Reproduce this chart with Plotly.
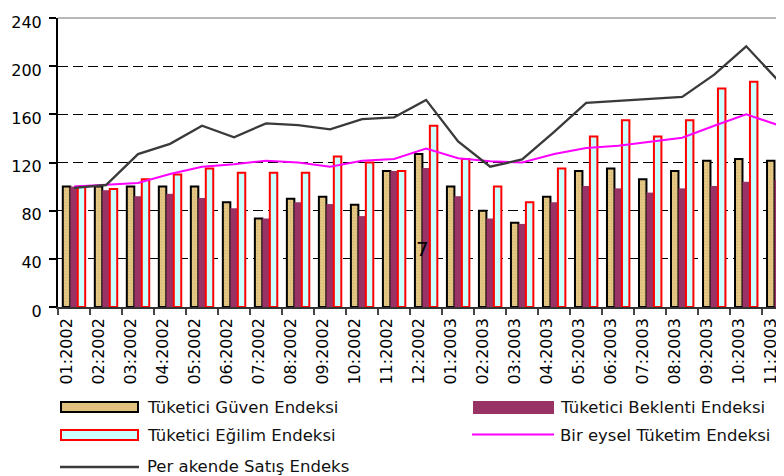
import plotly.graph_objects as go

months = ["01:2002", "02:2002", "03:2002", "04:2002", "05:2002", "06:2002",
          "07:2002", "08:2002", "09:2002", "10:2002", "11:2002", "12:2002",
          "01:2003", "02:2003", "03:2003", "04:2003", "05:2003", "06:2003",
          "07:2003", "08:2003", "09:2003", "10:2003", "11:2003"]

guven = [100, 100, 100, 100, 100, 87, 73.5, 90, 91.5, 85, 113, 127,
         100, 80, 70, 91.5, 113, 115, 106, 113, 121.5, 123, 121.5]
beklenti = [100, 97, 92, 94, 90.5, 82, 73.5, 87, 85.5, 75.5, 113, 115.5,
            92, 73.5, 69, 87, 100.5, 98.5, 95, 98.5, 100.5, 104, 105.5]
egilim = [100, 98, 106, 110, 115, 111.5, 111.5, 111.5, 125, 120, 113, 150.5,
          123, 100, 87, 115, 141.5, 155, 141.5, 155, 181.5, 187, 190]
bireysel = [100, 101.8, 103, 110.5, 116.5, 118.5, 121.5, 120, 116.5, 121.5, 123, 131.5,
            123.5, 121, 120, 127, 132, 134, 137, 140.5, 150.5, 160, 151]
perakende = [99, 101.3, 127, 135.5, 150.5, 141, 152.5, 151, 147.5, 156, 157.5, 172,
             137.5, 116.5, 122.5, 145.5, 169.5, 171, 172.5, 174.5, 193, 216.5, 188]

y_ticks = [0, 40, 80, 120, 160, 200, 240]

names = ["Tüketici Güven Endeksi", "Tüketici Beklenti Endeksi",
         "Tüketici Eğilim Endeksi", "Bir eysel Tüketim Endeksi",
         "Per akende Satış Endeks"]

# the page body adds an 8px offset; size the figure to fill the rest of the window
OFF = 8
W, H = 784 - OFF, 476 - OFF
ML, MR, MT, MB = 58 - OFF, 0, 18 - OFF, 169
PW, PH = W - ML - MR, H - MT - MB
FONT = "DejaVu Sans"

TAN = "#E0C27E"
PURPLE = "#993366"
CYAN = "#CCFFFF"
RED = "#FF0000"
MAGENTA = "#FF00FF"
GRAY = "#3A3A3A"


def xp(px):
    """window pixel -> paper x"""
    return (px - OFF - ML) / PW


def yp(py):
    """window pixel -> paper y"""
    return (H - MB - (py - OFF)) / PH


fig = go.Figure()
fig.add_trace(go.Bar(x=months, y=guven, name=names[0],
                     marker=dict(color=TAN, line=dict(color="black", width=2),
                                 pattern=dict(shape=".", fgcolor="#C9A865", bgcolor="#E4C784",
                                              size=3, solidity=0.25))))
fig.add_trace(go.Bar(x=months, y=beklenti, name=names[1],
                     marker=dict(color=PURPLE, line=dict(width=0))))
fig.add_trace(go.Bar(x=months, y=egilim, name=names[2],
                     marker=dict(color=CYAN, line=dict(color=RED, width=2))))
fig.add_trace(go.Scatter(x=months, y=bireysel, name=names[3], mode="lines",
                         line=dict(color=MAGENTA, width=2)))
fig.add_trace(go.Scatter(x=months, y=perakende, name=names[4], mode="lines",
                         line=dict(color=GRAY, width=2.3)))

shapes = []
annotations = []

# top border of the plot
shapes.append(dict(type="line", xref="paper", yref="paper", x0=0, x1=1, y0=1, y1=1,
                   line=dict(color="#A0A0A0", width=1.5)))


def legend_text(px, py, text):
    annotations.append(dict(xref="paper", yref="paper", x=xp(px), y=yp(py), text=text,
                            showarrow=False, xanchor="left", yanchor="middle",
                            font=dict(family=FONT, size=16.5, color="#111111")))


shapes.append(dict(type="rect", xref="paper", yref="paper", x0=xp(61), x1=xp(138),
                   y0=yp(402), y1=yp(412), fillcolor=TAN, line=dict(color="black", width=2)))
legend_text(145, 407, names[0])
shapes.append(dict(type="rect", xref="paper", yref="paper", x0=xp(473), x1=xp(554),
                   y0=yp(401), y1=yp(414), fillcolor=PURPLE, line=dict(width=0)))
legend_text(558, 407, names[1])
shapes.append(dict(type="rect", xref="paper", yref="paper", x0=xp(61), x1=xp(138),
                   y0=yp(430), y1=yp(440), fillcolor=CYAN, line=dict(color=RED, width=2)))
legend_text(145, 435, names[2])
shapes.append(dict(type="line", xref="paper", yref="paper", x0=xp(472), x1=xp(554),
                   y0=yp(434.5), y1=yp(434.5), line=dict(color=MAGENTA, width=2)))
legend_text(558, 435, names[3])
shapes.append(dict(type="line", xref="paper", yref="paper", x0=xp(60), x1=xp(139),
                   y0=yp(467), y1=yp(467), line=dict(color=GRAY, width=2.5)))
legend_text(145, 466, names[4])

# stray label inside the plot
annotations.append(dict(x=months[11], y=48, xref="x", yref="y", text="7", showarrow=False,
                        xshift=-4, font=dict(family=FONT, size=20, color="black")))

fig.update_layout(
    width=W, height=H,
    margin=dict(l=ML, r=MR, t=MT, b=MB, autoexpand=False),
    paper_bgcolor="white", plot_bgcolor="white",
    barmode="group", bargap=0.30, bargroupgap=0,
    showlegend=False,
    font=dict(family=FONT, size=16, color="black"),
    shapes=shapes, annotations=annotations,
)
fig.update_xaxes(type="category", range=[-0.5, 22.18], showgrid=False,
                 showline=True, linecolor="#333333", linewidth=1.5,
                 ticks="outside", tickson="boundaries", ticklen=6, tickcolor="#444444",
                 tickwidth=1.5, tickangle=-90, tickfont=dict(family=FONT, size=16, color="black"),
                 ticklabelshift=-7, ticklabelstandoff=3)
fig.update_yaxes(range=[0, 240], tickvals=y_ticks, showgrid=True, gridcolor="black",
                 griddash="10px,5px", gridwidth=1, zeroline=False,
                 showline=True, linecolor="black", linewidth=2,
                 ticks="outside", ticklen=7, tickcolor="black", tickwidth=1.5,
                 tickfont=dict(family=FONT, size=16, color="black"),
                 ticklabelstandoff=4, ticklabelshift=4)

fig.write_html("out.html")
